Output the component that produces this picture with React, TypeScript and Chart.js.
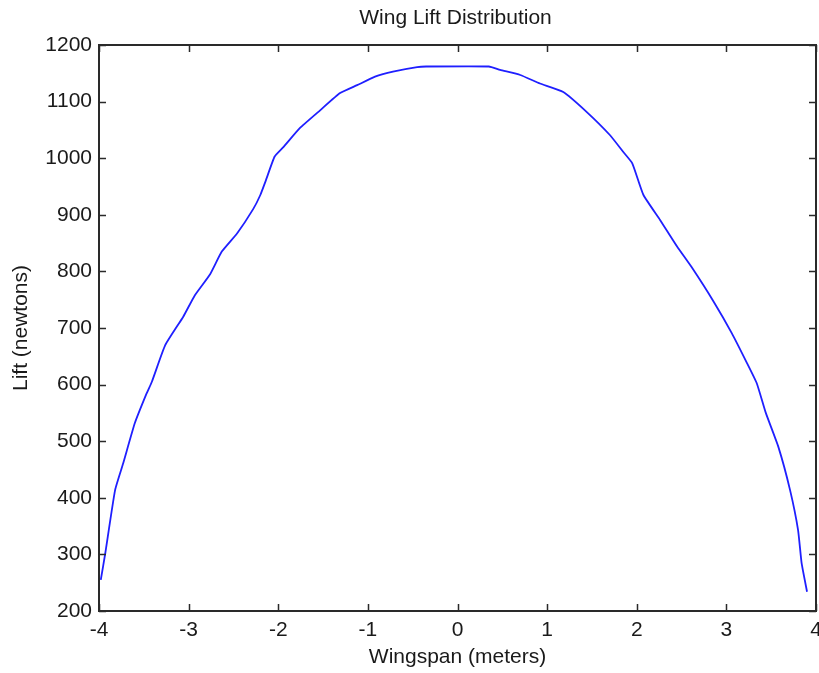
import React, { useEffect, useRef } from "react";
import { Chart, registerables } from "chart.js";

Chart.register(...registerables);

const chartTitle = "Wing Lift Distribution";
const xAxisTitle = "Wingspan (meters)";
const yAxisTitle = "Lift (newtons)";

const xTickValues = [-4, -3, -2, -1, 0, 1, 2, 3, 4];
const yTickValues = [200, 300, 400, 500, 600, 700, 800, 900, 1000, 1100, 1200];

const spanMeters = [
  -3.98, -3.93, -3.82, -3.73, -3.6, -3.47, -3.41, -3.26, -3.06, -2.93, -2.76, -2.63,
  -2.46, -2.28, -2.2, -2.14, -2.04, -1.94, -1.76, -1.53, -1.31, -1.12, -0.92, -0.72,
  -0.45, -0.35, 0.35, 0.475, 0.7, 0.92, 1.18, 1.44, 1.7, 1.85, 1.95, 2.075, 2.26,
  2.45, 2.61, 2.86, 3.06, 3.23, 3.34, 3.44, 3.58, 3.71, 3.8, 3.84, 3.9,
];
const liftNewtons = [
  255, 302, 414, 461, 532, 584, 605, 670, 720, 758, 795, 835, 867, 910, 935, 960,
  1003, 1020, 1053, 1085, 1115, 1129, 1144, 1153, 1161, 1162, 1162, 1156, 1147, 1132,
  1117, 1082, 1041, 1011, 991, 935, 891, 844, 808, 746, 691, 638, 602, 550, 490, 414,
  343, 284, 234,
];

const FONT = "'Liberation Sans', Arial, Helvetica, sans-serif";
const FONT_SIZE = 21;
const TEXT_COLOR = "#1a1a1a";
const AXIS_COLOR = "#2a2a2a";

const frameTicksPlugin = {
  id: "frameTicks",
  afterDatasetsDraw(chart: any) {
    const { ctx, chartArea } = chart;
    const { left, right, top, bottom } = chartArea;
    const xs = chart.scales.x;
    const ys = chart.scales.y;
    const tl = 7;
    ctx.save();
    ctx.strokeStyle = AXIS_COLOR;
    ctx.lineWidth = 1.5;
    ctx.beginPath();
    for (const v of xTickValues) {
      const px = Math.round(xs.getPixelForValue(v)) + 0.5;
      ctx.moveTo(px, bottom);
      ctx.lineTo(px, bottom - tl);
      ctx.moveTo(px, top);
      ctx.lineTo(px, top + tl);
    }
    for (const v of yTickValues) {
      const py = Math.round(ys.getPixelForValue(v)) + 0.5;
      ctx.moveTo(left, py);
      ctx.lineTo(left + tl, py);
      ctx.moveTo(right, py);
      ctx.lineTo(right - tl, py);
    }
    ctx.stroke();
    ctx.lineWidth = 2;
    ctx.strokeRect(left, top, right - left, bottom - top);

    ctx.fillStyle = TEXT_COLOR;
    ctx.font = `${FONT_SIZE}px ${FONT}`;
    ctx.textAlign = "center";
    ctx.textBaseline = "middle";
    ctx.fillText(chartTitle, (left + right) / 2 - 2, 18);
    ctx.restore();
  },
};

export default function App() {
  const canvasRef = useRef<HTMLCanvasElement | null>(null);

  useEffect(() => {
    document.body.style.margin = "0";
    document.body.style.background = "#ffffff";
    const canvas = canvasRef.current;
    if (!canvas) return;
    const points = spanMeters.map((x, i) => ({ x, y: liftNewtons[i] }));
    const chart = new Chart(canvas, {
      type: "scatter",
      data: {
        datasets: [
          {
            label: "Lift",
            data: points,
            showLine: true,
            borderColor: "#1f1fff",
            backgroundColor: "#1f1fff",
            borderWidth: 1.8,
            pointRadius: 0,
            pointHoverRadius: 0,
            tension: 0.15,
          },
        ],
      },
      options: {
        responsive: false,
        animation: false,
        events: [],
        layout: { padding: { left: 0, right: 3, top: 45, bottom: 0 } },
        plugins: {
          legend: { display: false },
          tooltip: { enabled: false },
          title: { display: false },
        },
        scales: {
          x: {
            type: "linear",
            min: -4,
            max: 4,
            grid: { display: false, drawTicks: false },
            border: { display: false },
            afterBuildTicks: (scale: any) => {
              scale.ticks = xTickValues.map((v) => ({ value: v }));
            },
            ticks: {
              color: TEXT_COLOR,
              font: { family: FONT, size: FONT_SIZE },
              padding: 7,
              maxRotation: 0,
              autoSkip: false,
              callback: (v: any) => String(v),
            },
            title: {
              display: true,
              text: xAxisTitle,
              color: TEXT_COLOR,
              font: { family: FONT, size: FONT_SIZE, lineHeight: 1.2 },
              padding: { top: 0, bottom: 3 },
            },
            afterFit: (scale: any) => {
              scale.height = 62;
              scale.paddingLeft = 0;
              scale.paddingRight = 0;
            },
          },
          y: {
            type: "linear",
            min: 200,
            max: 1200,
            grid: { display: false, drawTicks: false },
            border: { display: false },
            afterBuildTicks: (scale: any) => {
              scale.ticks = yTickValues.map((v) => ({ value: v }));
            },
            ticks: {
              color: TEXT_COLOR,
              font: { family: FONT, size: FONT_SIZE },
              padding: 7,
              autoSkip: false,
              callback: (v: any) => String(v),
            },
            title: {
              display: true,
              text: yAxisTitle,
              color: TEXT_COLOR,
              font: { family: FONT, size: FONT_SIZE, lineHeight: 1.2 },
              padding: { top: 9, bottom: 0 },
            },
            afterFit: (scale: any) => {
              scale.width = 99;
              scale.paddingTop = 0;
              scale.paddingBottom = 0;
            },
          },
        },
      },
      plugins: [frameTicksPlugin],
    } as any);
    return () => {
      chart.destroy();
    };
  }, []);

  return (
    <div style={{ width: 819, height: 673, background: "#ffffff" }}>
      <canvas ref={canvasRef} width={819} height={673} style={{ display: "block" }} />
    </div>
  );
}
